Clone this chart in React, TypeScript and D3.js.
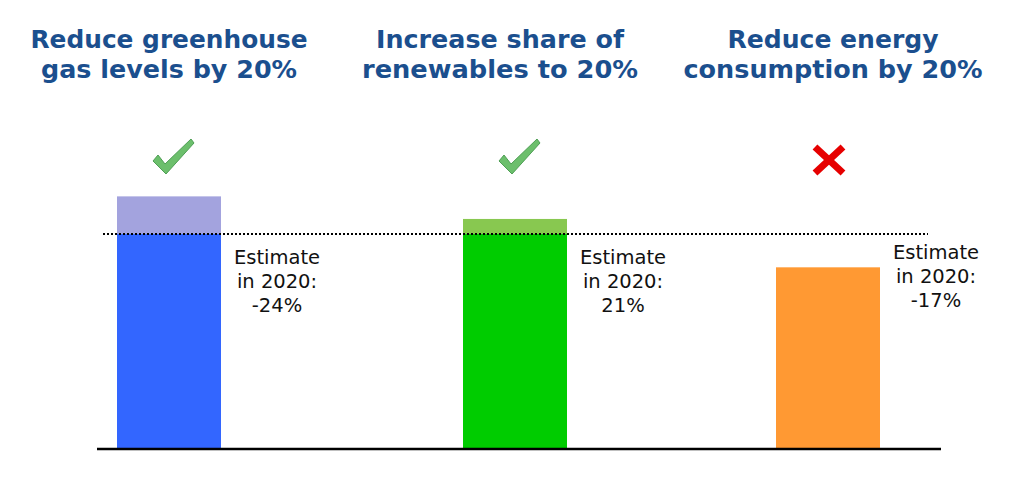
import React from "react";
import * as d3 from "d3";

const categories = ["greenhouse", "renewables", "energy"];
const titleLines = [
  ["Reduce greenhouse", "gas levels by 20%"],
  ["Increase share of", "renewables to 20%"],
  ["Reduce energy", "consumption by 20%"],
];
const values = [23.5, 21.4, 16.9];
const target = 20;
const estimateLabels = ["-24%", "21%", "-17%"];
const achieved = [true, true, false];

const W = 1024;
const H = 478;
const baseY = 449;
const barW = 104;
const barNudge = [0, 16, -1];
const labelY = [264, 264, 259];
const titleWidths = [
  [277, 256],
  [248, 276],
  [211, 299],
];

const mainColors = ["#3366ff", "#00cc00", "#ff9933"];
const overColors = ["#a3a3de", "#88c850", "#ff9933"];

export default function App() {
  const x = d3.scalePoint<string>().domain(categories).range([169, 829]);
  const y = d3.scaleLinear().domain([0, target]).range([baseY, 234]);

  const checkPath = "M-12,-13 L-7,-19 L0,-10 L26,-35 L29,-31 L1,0 Z";

  return (
    <svg
      width={W}
      height={H}
      style={{ position: "absolute", left: 0, top: 0, background: "#fff" }}
    >
      {categories.map((c, i) => {
        const cx = x(c)!;
        return (
          <g key={"t" + c}>
            {titleLines[i].map((t, j) => (
              <text
                key={j}
                x={cx + (i === 2 ? 4 : i === 1 ? 1 : 0)}
                y={48 + j * 30}
                textAnchor="middle"
                fontFamily="DejaVu Sans"
                fontWeight="bold"
                fontSize={24}
                fill="#1b4f8e"
                textLength={titleWidths[i][j]}
                lengthAdjust="spacingAndGlyphs"
              >
                {t}
              </text>
            ))}
          </g>
        );
      })}

      {categories.map((c, i) => {
        const bx = x(c)! - barW / 2 + barNudge[i];
        const v = values[i];
        const base = Math.min(v, target);
        return (
          <g key={"b" + c}>
            <rect
              x={bx}
              y={y(base)}
              width={barW}
              height={baseY - y(base)}
              fill={mainColors[i]}
            />
            {v > target && (
              <rect
                x={bx}
                y={y(v)}
                width={barW}
                height={y(target) - y(v)}
                fill={overColors[i]}
              />
            )}
            {achieved[i] ? (
              <path
                d={checkPath}
                transform={`translate(${bx + barW / 2 - 4},174)`}
                fill="#6cbf6c"
                stroke="#4f9f55"
                strokeWidth={1}
                strokeLinejoin="round"
              />
            ) : (
              <g transform={`translate(${bx + barW / 2 + 1},160)`}>
                <line x1={-14} y1={-13} x2={14} y2={13} stroke="#e60000" strokeWidth={7} />
                <line x1={-14} y1={13} x2={14} y2={-13} stroke="#e60000" strokeWidth={7} />
              </g>
            )}
            {["Estimate", "in 2020:", estimateLabels[i]].map((t, j) => (
              <text
                key={j}
                x={bx + barW + 56}
                y={labelY[i] + j * 24}
                textAnchor="middle"
                fontFamily="DejaVu Sans"
                fontSize={19.5}
                fill="#111"
              >
                {t}
              </text>
            ))}
          </g>
        );
      })}

      <line
        x1={103}
        x2={928}
        y1={y(target)}
        y2={y(target)}
        stroke="#000"
        strokeWidth={2}
        strokeDasharray="2,2"
      />
      <line x1={97} x2={941} y1={baseY} y2={baseY} stroke="#000" strokeWidth={2.5} />
    </svg>
  );
}
